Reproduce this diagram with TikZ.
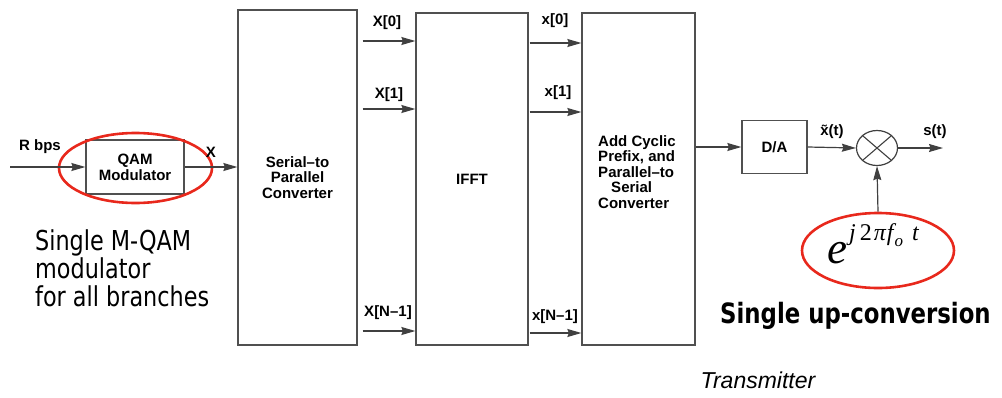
\documentclass[tikz,border=0pt]{standalone}
\usepackage{fontspec}
\setmainfont{Liberation Sans}
\newfontfamily\annotfont[FakeStretch=0.815]{DejaVu Sans}
\newfontfamily\serifit{Liberation Serif}
\usetikzlibrary{arrows.meta,shapes.geometric}
\definecolor{boxgray}{HTML}{505050}
\definecolor{linegray}{HTML}{404040}
\definecolor{ringred}{HTML}{E8281C}
\begin{document}
\begin{tikzpicture}[x=1pt,y=-1pt,
  box/.style={draw=boxgray, line width=1.3pt, fill=white, inner sep=0pt, align=center,
    font=\fontsize{15}{15.8}\selectfont\bfseries},
  lbl/.style={inner sep=0pt, font=\fontsize{15}{16}\selectfont\bfseries},
  sig/.style={draw=linegray, line width=1.2pt, -{Stealth[length=14pt,width=8pt,inset=1.5pt]}},
  ring/.style={ellipse, draw=ringred, line width=2.6pt, inner sep=0pt},
  annot/.style={inner sep=0pt, anchor=base west, font=\annotfont\fontsize{27.4}{28}\selectfont}
]
\useasboundingbox (0,0) rectangle (1002,397);

% blocks
\node[box, minimum width=98pt, minimum height=54pt] (qam) at (135,167) {QAM\\Modulator};
\node[box, minimum width=119pt, minimum height=335pt] (s2p) at (297.5,177.5) {Serial--to\\Parallel\\Converter};
\node[box, minimum width=112pt, minimum height=332pt] (ifft) at (472,179) {IFFT};
\node[box, minimum width=113pt, minimum height=332pt] (acp) at (638.5,179) {};
\node[inner sep=0pt, align=left, font=\fontsize{15}{15.6}\selectfont\bfseries] (acptext) at (637,172)
  {Add Cyclic\\Prefix, and\\Parallel--to\\\hspace*{13pt}Serial\\Converter};
\node[box, minimum width=65pt, minimum height=53pt] (da) at (774.5,147) {D/A};
\node[ellipse, draw=linegray, line width=1.2pt, minimum width=41pt, minimum height=35pt, inner sep=0pt] (mult) at (877,148) {};
\draw[linegray, line width=1.1pt] (mult.north east) -- (mult.south west);
\draw[linegray, line width=1.1pt] (mult.north west) -- (mult.south east);

% red rings
\node[ring, minimum width=153pt, minimum height=70pt] (ring1) at (135.5,168) {};
\node[ring, minimum width=152pt, minimum height=75pt] (ring2) at (878,250.5) {};

% connectors
\coordinate (rin) at (10,167);
\coordinate (sout) at (943,148);
\draw[sig] (rin) -- (qam.west);
\draw[sig] (qam.east) -- (qam.east -| s2p.west);
\foreach \y in {41,109,331} {
  \draw[sig] ([xshift=5pt]s2p.east |- 0,\y) -- (ifft.west |- 0,\y);
}
\foreach \y in {43,112,333} {
  \draw[sig] ([xshift=1pt]ifft.east |- 0,\y) -- (acp.west |- 0,\y);
}
\draw[sig] (acp.east |- da.west) -- (da.west);
\draw[sig] (da.east) -- (mult.west);
\draw[sig] (mult.east) -- (sout);
\draw[sig] (ring2.north) -- (mult.south);

% labels
\node[lbl] (lrbps) at (40,147) {R bps};
\node[lbl] (lx) at (211,152) {X};
\node[lbl] (lX0) at (387,23) {X[0]};
\node[lbl] (lX1) at (389,95) {X[1]};
\node[lbl] (lXN) at (388,313) {X[N--1]};
\node[lbl] (lx0) at (555,21) {x[0]};
\node[lbl] (lx1) at (558,93) {x[1]};
\node[lbl] (lxN) at (555,317) {x[N--1]};
\node[lbl] (lxt) at (832,132) {\~{x}(t)};
\node[lbl] (lst) at (935,132) {s(t)};

% exponential
\node[inner sep=0pt, anchor=base west] (expo) at (827,263)
  {{\serifit\itshape\fontsize{45}{45}\selectfont e}\kern2pt\raisebox{23pt}{\serifit\fontsize{24}{24}\selectfont\itshape j\kern4pt\upshape 2\kern2pt\itshape π\kern1pt f\kern1pt\raisebox{-6pt}{\fontsize{17}{17}\selectfont o}\kern9pt t}};

% annotations
\node[annot] (ann1) at (35,250) {Single M-QAM};
\node[annot] (ann2) at (35,278) {modulator};
\node[annot] (ann3) at (35,306) {for all branches};
\node[annot, font=\annotfont\bfseries\fontsize{28}{28}\selectfont] (ann4) at (720,323) {Single up-conversion};
\node[inner sep=0pt, anchor=base, font=\itshape\fontsize{23}{23}\selectfont] (trans) at (758,388) {Transmitter};
\end{tikzpicture}
\end{document}
